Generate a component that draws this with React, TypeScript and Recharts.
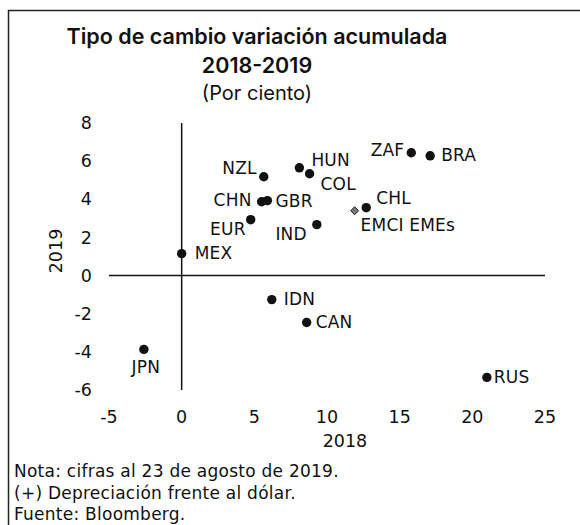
import { ScatterChart, Scatter, XAxis, YAxis, ReferenceLine } from 'recharts'

const countries = ['NZL', 'CHN', 'GBR', 'EUR', 'MEX', 'HUN', 'COL', 'ZAF', 'BRA', 'CHL', 'IND', 'IDN', 'CAN', 'RUS', 'JPN']
const var2018 = [5.65, 5.5, 5.9, 4.75, 0.0, 8.1, 8.8, 15.8, 17.1, 12.7, 9.3, 6.2, 8.6, 21.0, -2.6]
const var2019 = [5.18, 3.87, 3.93, 2.93, 1.15, 5.65, 5.34, 6.44, 6.28, 3.56, 2.67, -1.26, -2.46, -5.34, -3.87]

const indexName = ['EMCI EMEs']
const index2018 = [11.9]
const index2019 = [3.4]

const xTicks = [-5, 0, 5, 10, 15, 20, 25]
const yTicks = [-6, -4, -2, 0, 2, 4, 6, 8]

// where each label sits next to its dot
const labelPlace: Record<string, { dx: number; dy: number; anchor: 'start' | 'middle' | 'end' }> = {
  NZL: { dx: -7, dy: -9, anchor: 'end' },
  CHN: { dx: -10, dy: -2, anchor: 'end' },
  GBR: { dx: 8, dy: 0, anchor: 'start' },
  EUR: { dx: -5, dy: 9, anchor: 'end' },
  MEX: { dx: 13, dy: -1, anchor: 'start' },
  HUN: { dx: 12, dy: -8, anchor: 'start' },
  COL: { dx: 11, dy: 10, anchor: 'start' },
  ZAF: { dx: -7, dy: -3, anchor: 'end' },
  BRA: { dx: 11, dy: -1, anchor: 'start' },
  CHL: { dx: 10, dy: -10, anchor: 'start' },
  IND: { dx: -10, dy: 9, anchor: 'end' },
  IDN: { dx: 12, dy: -1, anchor: 'start' },
  CAN: { dx: 9, dy: 0, anchor: 'start' },
  RUS: { dx: 7, dy: 0, anchor: 'start' },
  JPN: { dx: 2, dy: 18, anchor: 'middle' },
  'EMCI EMEs': { dx: 6, dy: 14, anchor: 'start' },
}

const font = 'Inter, "Noto Sans", sans-serif'
const wide = '"DejaVu Sans", sans-serif'

const countryData = countries.map((name, i) => ({ name, x: var2018[i], y: var2019[i] }))
const indexData = indexName.map((name, i) => ({ name, x: index2018[i], y: index2019[i] }))

function Label({ x, y, p, name }: any) {
  return (
    <text x={x + p.dx} y={y + p.dy} textAnchor={p.anchor} dominantBaseline="central"
      fontSize={17} letterSpacing={0.2} fontFamily={wide} fill="#111">
      {name}
    </text>
  )
}

function DotShape(props: any) {
  const { cx, cy, payload } = props
  const p = labelPlace[payload.name]
  return (
    <g>
      <circle cx={cx} cy={cy} r={4.7} fill="#111" />
      <Label x={cx} y={cy} p={p} name={payload.name} />
    </g>
  )
}

function DiamondShape(props: any) {
  const { cx, cy, payload } = props
  const p = labelPlace[payload.name]
  const s = 4
  return (
    <g>
      <path d={`M${cx},${cy - s}L${cx + s},${cy}L${cx},${cy + s}L${cx - s},${cy}Z`} fill="#777" stroke="#222" strokeWidth={1} />
      <Label x={cx} y={cy} p={p} name={payload.name} />
    </g>
  )
}

export default function App() {
  const tick = { fill: '#111', fontSize: 17.5, fontFamily: wide }
  return (
    <div style={{ position: 'absolute', left: 0, top: 0, width: 580, height: 525, background: '#fff' }}>
      <svg width={580} height={525} style={{ position: 'absolute', left: 0, top: 0 }}>
        <line x1={8} y1={10.5} x2={580} y2={10.5} stroke="#222" strokeWidth={1.5} />
        <line x1={8.5} y1={10} x2={8.5} y2={525} stroke="#222" strokeWidth={1.5} />
        <g fontFamily={font} fill="#111" textAnchor="middle">
          <text x={257} y={44} fontSize={21.5} fontWeight={600}>Tipo de cambio variación acumulada</text>
          <text x={257} y={73} fontSize={21.5} fontWeight={600}>2018-2019</text>
          <text x={257} y={100} fontSize={20} fontWeight={400}>(Por ciento)</text>
        </g>
        <g fontFamily={wide} fill="#111" textAnchor="middle" fontSize={17.5}>
          <text x={345} y={447}>2018</text>
          <text x={0} y={0} transform="translate(56,251) rotate(-90)" dominantBaseline="central">2019</text>
        </g>
        <g fontFamily={wide} fill="#111" fontSize={17} letterSpacing={0.25}>
          <text x={14} y={477}>Nota: cifras al 23 de agosto de 2019.</text>
          <text x={14} y={499}>(+) Depreciación frente al dólar.</text>
          <text x={14} y={520}>Fuente: Bloomberg.</text>
        </g>
      </svg>
      <div style={{ position: 'absolute', left: 0, top: 0 }}>
        <ScatterChart width={580} height={525} margin={{ top: 123, right: 35, bottom: 105, left: 49 }}>
          <XAxis type="number" dataKey="x" domain={[-5, 25]} ticks={xTicks} axisLine={false} tickLine={false}
            tickSize={0} tickMargin={21} tick={tick} height={30} allowDataOverflow />
          <YAxis type="number" dataKey="y" domain={[-6, 8]} ticks={yTicks} axisLine={false} tickLine={false}
            tickSize={0} tickMargin={17} tick={tick} width={60} allowDataOverflow />
          <ReferenceLine x={0} stroke="#111" strokeWidth={1.5} />
          <ReferenceLine y={0} stroke="#111" strokeWidth={1.5} />
          <Scatter data={countryData} shape={DotShape} isAnimationActive={false} />
          <Scatter data={indexData} shape={DiamondShape} isAnimationActive={false} />
        </ScatterChart>
      </div>
    </div>
  )
}
